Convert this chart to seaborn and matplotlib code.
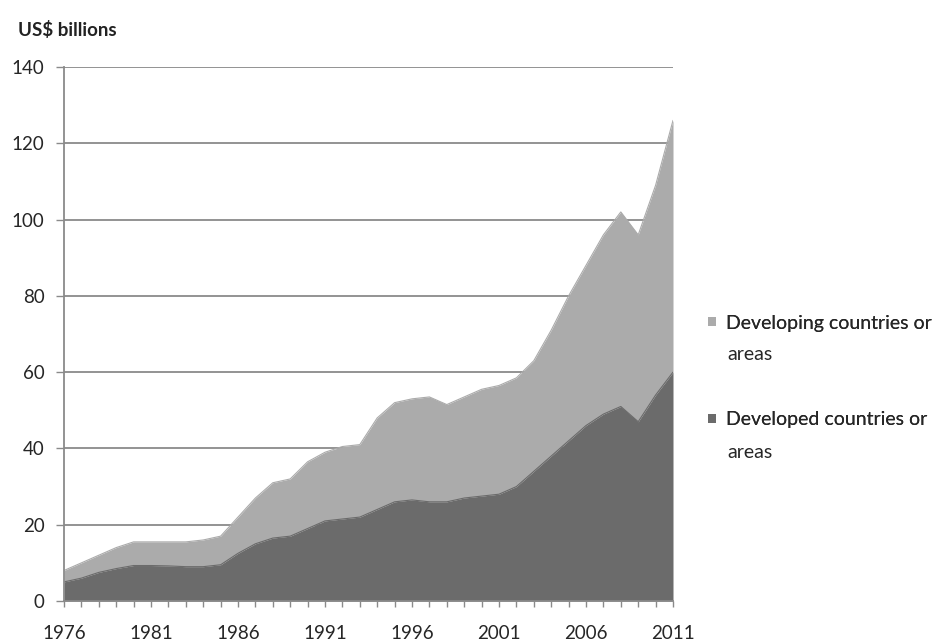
import matplotlib
matplotlib.use("Agg")
import matplotlib.pyplot as plt
from matplotlib.patches import Patch
import numpy as np
import pandas as pd
import seaborn as sns

years = list(range(1976, 2012))

# Exports by origin, US$ billions
developed = [5.0, 6.0, 7.5, 8.5, 9.3, 9.3, 9.2, 9.0, 9.0, 9.5,
             12.5, 15.0, 16.5, 17.0, 19.0, 21.0, 21.5, 22.0, 24.0, 26.0,
             26.5, 26.0, 26.0, 27.0, 27.5, 28.0, 30.0, 34.0, 38.0, 42.0,
             46.0, 49.0, 51.0, 47.0, 54.0, 60.0]
developing = [3.0, 4.0, 4.5, 5.5, 6.2, 6.2, 6.3, 6.5, 7.0, 7.5,
              9.5, 12.0, 14.5, 15.0, 17.5, 18.0, 19.0, 19.0, 24.0, 26.0,
              26.5, 27.5, 25.5, 26.5, 28.0, 28.5, 28.5, 29.0, 33.0, 38.0,
              42.0, 47.0, 51.0, 49.0, 55.0, 66.0]

series_first_lines = ["Developing countries or", "Developed countries or"]
series_second_line = "areas"
series_colors = ["#ababab", "#6b6b6b"]

ytick_values = list(range(0, 141, 20))
xtick_labels = [1976, 1981, 1986, 1991, 1996, 2001, 2006, 2011]

df = pd.DataFrame({"year": years, "developed": developed, "developing": developing})
df["total"] = df["developed"] + df["developing"]

sns.set_style("white")
plt.rcParams["font.family"] = ["Lato", "DejaVu Sans"]

W, H = 940, 643
fig = plt.figure(figsize=(W / 100, H / 100), dpi=100)
ax = fig.add_axes([64 / W, 1 - 601 / H, (673 - 64) / W, (601 - 67) / H])

# Horizontal gridlines sit behind the filled areas
for v in ytick_values[1:]:
    ax.axhline(v, color="#8a8a8a", lw=1.3, zorder=0)

# Stacked areas: developed at the bottom, developing on top
ax.fill_between(df["year"], df["developed"], df["total"],
                color=series_colors[0], lw=0, zorder=1)
ax.fill_between(df["year"], 0, df["developed"],
                color=series_colors[1], lw=0, zorder=2)
sns.lineplot(data=df, x="year", y="total", ax=ax, color=series_colors[0], lw=0.8, zorder=1)
sns.lineplot(data=df, x="year", y="developed", ax=ax, color=series_colors[1], lw=0.8, zorder=2)

ax.set_xlim(1976, 2011)
ax.set_ylim(0, 140)
ax.set_yticks(ytick_values)
ax.set_yticklabels([str(v) for v in ytick_values], fontsize=13.5, color="#262626")
ax.set_xticks(years)
ax.set_xticklabels([str(y) if y in xtick_labels else "" for y in years],
                   fontsize=13.5, color="#262626")
ax.tick_params(axis="x", direction="out", length=4, width=1, color="#8a8a8a", pad=13,
               bottom=True)
ax.tick_params(axis="y", direction="out", length=6, width=1, color="#8a8a8a", pad=8,
               left=True)
ax.set_xlabel("")
ax.set_ylabel("")

for side in ["top", "right"]:
    ax.spines[side].set_visible(False)
for side in ["left", "bottom"]:
    ax.spines[side].set_color("#8a8a8a")
    ax.spines[side].set_linewidth(1.3)
    ax.spines[side].set_zorder(3)

fig.text(18 / W, 1 - 30 / H, "US$ billions", fontsize=13.5, fontweight="bold",
         color="#222222", ha="left", va="center")

# Legend entries, each with its label wrapped onto a second line
legend_fs = 14
entry_rows = [323, 420]
for color, first, row in zip(series_colors, series_first_lines, entry_rows):
    leg = fig.legend(handles=[Patch(facecolor=color, edgecolor="none")], labels=[first],
                     loc="center left", bbox_to_anchor=(708 / W, 1 - row / H),
                     bbox_transform=fig.transFigure, frameon=False, fontsize=legend_fs,
                     handlelength=0.4, handleheight=0.4, handletextpad=0.55,
                     borderpad=0, borderaxespad=0, labelcolor="#262626")
    fig.add_artist(leg)
    fig.text(727 / W, 1 - (row + 32) / H, series_second_line, fontsize=legend_fs,
             color="#262626", ha="left", va="center")

fig.savefig("out.png", dpi=100)
